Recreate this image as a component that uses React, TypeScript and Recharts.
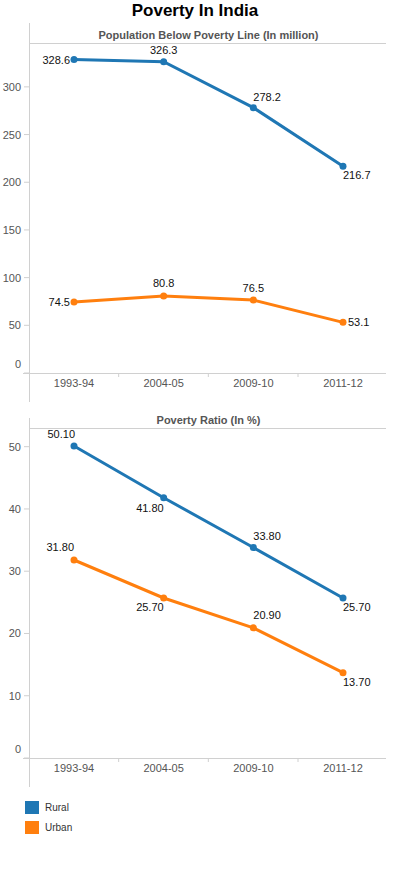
import React from 'react';
import { LineChart, Line, XAxis, YAxis, LabelList } from 'recharts';

const years = ['1993-94', '2004-05', '2009-10', '2011-12'];
const ruralPopulation = [328.6, 326.3, 278.2, 216.7];
const urbanPopulation = [74.5, 80.8, 76.5, 53.1];
const ruralRatio = [50.1, 41.8, 33.8, 25.7];
const urbanRatio = [31.8, 25.7, 20.9, 13.7];
const populationTicks = [0, 50, 100, 150, 200, 250, 300];
const ratioTicks = [0, 10, 20, 30, 40, 50];

const RURAL = '#1f77b4';
const URBAN = '#ff7f0e';
const AXIS = '#d0d0d0';
const TICK_TEXT = '#555';
const FONT = '"Liberation Sans", Arial, sans-serif';
const HALF_BAND = 45;

type Place = { anchor: 'start' | 'middle' | 'end'; dx: number; dy: number };

// where each point's value label sits relative to its dot
const ruralPopPlace: Place[] = [
  { anchor: 'end', dx: -4, dy: 4 },
  { anchor: 'middle', dx: 0, dy: -8 },
  { anchor: 'start', dx: 0, dy: -7 },
  { anchor: 'start', dx: 0, dy: 13 },
];
const urbanPopPlace: Place[] = [
  { anchor: 'end', dx: -4, dy: 4 },
  { anchor: 'middle', dx: 0, dy: -9 },
  { anchor: 'middle', dx: 0, dy: -8 },
  { anchor: 'start', dx: 5, dy: 4 },
];
const ruralRatioPlace: Place[] = [
  { anchor: 'end', dx: 1, dy: -8 },
  { anchor: 'end', dx: 0, dy: 14 },
  { anchor: 'start', dx: 0, dy: -8 },
  { anchor: 'start', dx: 0, dy: 13 },
];
const urbanRatioPlace: Place[] = [
  { anchor: 'end', dx: 0, dy: -9 },
  { anchor: 'end', dx: 0, dy: 13 },
  { anchor: 'start', dx: 0, dy: -9 },
  { anchor: 'start', dx: 0, dy: 13 },
];

const popData = years.map((year, i) => ({
  year,
  rural: ruralPopulation[i],
  urban: urbanPopulation[i],
}));
const ratioData = years.map((year, i) => ({
  year,
  rural: ruralRatio[i],
  urban: urbanRatio[i],
}));

function makeLabel(places: Place[], digits: number) {
  return (props: any) => {
    const { x, y, value, index } = props;
    const p = places[index] ?? { anchor: 'middle', dx: 0, dy: -8 };
    return (
      <text
        x={x + p.dx}
        y={y + p.dy}
        textAnchor={p.anchor}
        fontSize={11}
        fontFamily={FONT}
        fill="#111"
      >
        {Number(value).toFixed(digits)}
      </text>
    );
  };
}

function YTick(props: any) {
  const { x, y, payload } = props;
  return (
    <text
      x={x}
      y={y}
      dy={payload.value === 0 ? -5 : 4}
      textAnchor="end"
      fontSize={11}
      fontFamily={FONT}
      fill={TICK_TEXT}
    >
      {payload.value}
    </text>
  );
}

function XTick(props: any) {
  const { x, y, payload, index } = props;
  return (
    <g>
      <text x={x} y={y + 14} textAnchor="middle" fontSize={11} fontFamily={FONT} fill={TICK_TEXT}>
        {payload.value}
      </text>
      {index > 0 && (
        <line x1={x - HALF_BAND} x2={x - HALF_BAND} y1={y} y2={y + 4} stroke={AXIS} />
      )}
    </g>
  );
}

function Panel({
  top,
  title,
  data,
  domainMax,
  ticks,
  places,
  digits,
  axisTop,
}: {
  top: number;
  title: string;
  data: { year: string; rural: number; urban: number }[];
  domainMax: number;
  ticks: number[];
  places: [Place[], Place[]];
  digits: number;
  axisTop: number;
}) {
  return (
    <>
      <div
        style={{
          position: 'absolute',
          left: 29,
          top: top + 29,
          width: 359,
          textAlign: 'center',
          fontSize: 11,
          lineHeight: '13px',
          fontWeight: 'bold',
          color: TICK_TEXT,
          fontFamily: FONT,
        }}
      >
        {title}
      </div>
      {/* subtitle rule */}
      <div
        style={{
          position: 'absolute',
          left: 29,
          top: top + 43,
          width: 357,
          borderTop: `1px solid ${AXIS}`,
        }}
      />
      {/* long left rule */}
      <div
        style={{
          position: 'absolute',
          left: 29,
          top: axisTop,
          height: top + 402 - axisTop,
          borderLeft: `1px solid ${AXIS}`,
        }}
      />
      {/* baseline, reaching past the y axis like the original */}
      <div
        style={{
          position: 'absolute',
          left: 23,
          top: top + 373,
          width: 363,
          borderTop: `1px solid ${AXIS}`,
        }}
      />
      <div style={{ position: 'absolute', left: 0, top }}>
        <LineChart width={396} height={403} data={data} margin={{ top: 43, right: 8, left: 0, bottom: 0 }}>
          <XAxis
            dataKey="year"
            height={30}
            padding={{ left: HALF_BAND, right: HALF_BAND }}
            tickSize={0}
            tickMargin={0}
            tickLine={false}
            axisLine={false}
            tick={<XTick />}
            interval={0}
          />
          <YAxis
            width={29}
            domain={[0, domainMax]}
            ticks={ticks}
            allowDataOverflow
            axisLine={false}
            tickLine={{ stroke: AXIS }}
            tickSize={5}
            tickMargin={3}
            tick={<YTick />}
          />
          <Line
            dataKey="rural"
            stroke={RURAL}
            strokeWidth={3}
            dot={{ r: 3.5, fill: RURAL, stroke: RURAL, strokeWidth: 0 }}
            activeDot={false}
            isAnimationActive={false}
          >
            <LabelList dataKey="rural" content={makeLabel(places[0], digits)} />
          </Line>
          <Line
            dataKey="urban"
            stroke={URBAN}
            strokeWidth={3}
            dot={{ r: 3.5, fill: URBAN, stroke: URBAN, strokeWidth: 0 }}
            activeDot={false}
            isAnimationActive={false}
          >
            <LabelList dataKey="urban" content={makeLabel(places[1], digits)} />
          </Line>
        </LineChart>
      </div>
    </>
  );
}

export default function App() {
  return (
    <div
      style={{
        position: 'absolute',
        left: 0,
        top: 0,
        width: 396,
        height: 875,
        background: '#fff',
        fontFamily: FONT,
      }}
    >
      <div
        style={{
          position: 'absolute',
          left: 0,
          top: 1,
          width: 390,
          textAlign: 'center',
          fontSize: 17,
          lineHeight: '20px',
          fontWeight: 'bold',
          color: '#000',
        }}
      >
        Poverty In India
      </div>
      <Panel
        top={0}
        axisTop={23}
        title="Population Below Poverty Line (In million)"
        data={popData}
        domainMax={346}
        ticks={populationTicks}
        places={[ruralPopPlace, urbanPopPlace]}
        digits={1}
      />
      <Panel
        top={385}
        axisTop={418}
        title="Poverty Ratio (In %)"
        data={ratioData}
        domainMax={53}
        ticks={ratioTicks}
        places={[ruralRatioPlace, urbanRatioPlace]}
        digits={2}
      />
      {[
        { name: 'Rural', color: RURAL, top: 801 },
        { name: 'Urban', color: URBAN, top: 821 },
      ].map((item) => (
        <div key={item.name} style={{ position: 'absolute', left: 25, top: item.top, display: 'flex', alignItems: 'center' }}>
          <div style={{ width: 14, height: 13, background: item.color }} />
          <span style={{ marginLeft: 6, fontSize: 10, color: '#333' }}>{item.name}</span>
        </div>
      ))}
    </div>
  );
}
